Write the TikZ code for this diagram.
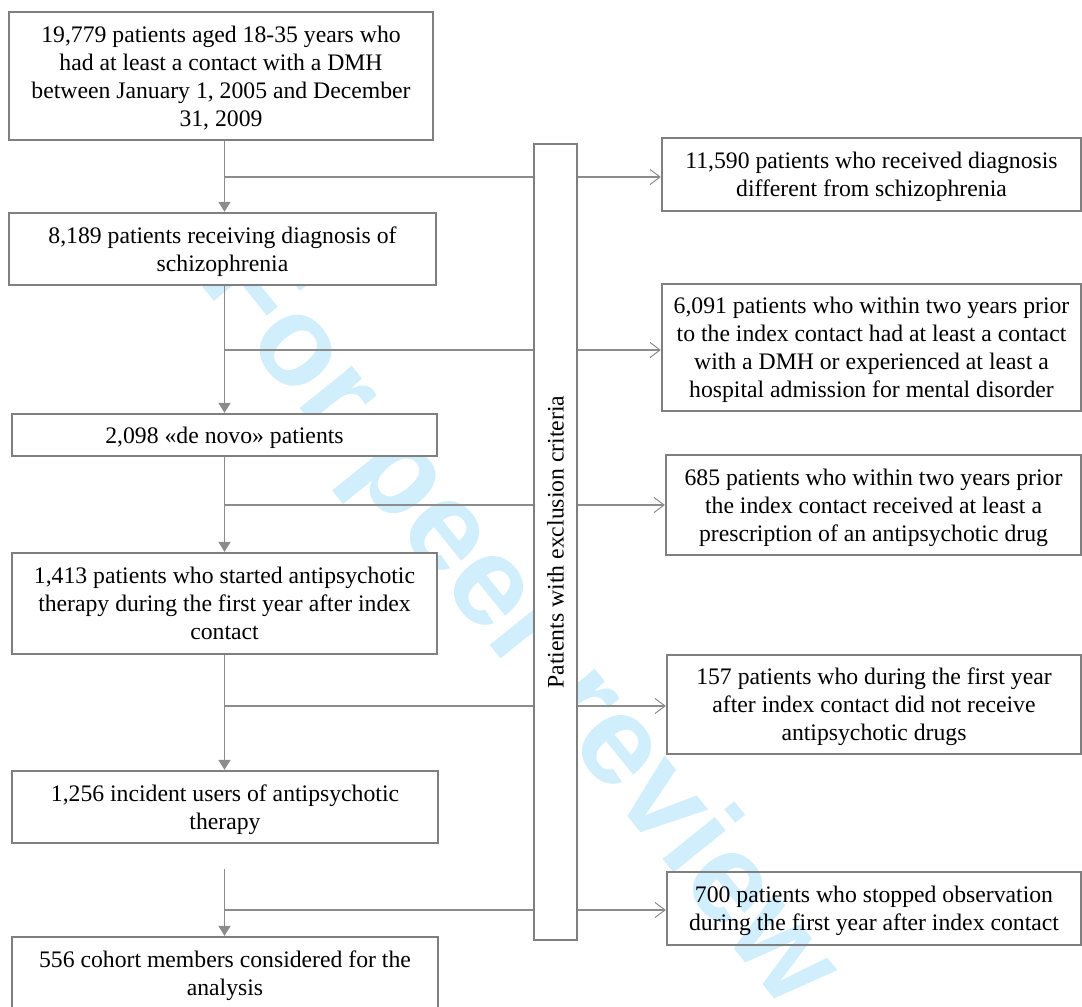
\documentclass[tikz,border=0pt]{standalone}
\usepackage{fontspec}
\setmainfont{Liberation Serif}
\newfontfamily\wmfam{Liberation Sans}
\usetikzlibrary{arrows.meta}
\definecolor{bordergray}{RGB}{127,127,127}
\definecolor{linegray}{RGB}{140,140,140}
\definecolor{wmblue}{RGB}{208,238,252}
\newcommand\mytop{\rule{0pt}{22pt}}
\newcommand\mybot{\rule[-6pt]{0pt}{6pt}}
\tikzset{
  txt/.style={font=\fontsize{23.7}{28}\selectfont, align=center, inner sep=0pt, text=black},
  lbox/.style={txt, draw=bordergray, line width=2.3pt, fill=white},
  rbox/.style={txt, draw=bordergray, line width=2.3pt},
  barbox/.style={draw=bordergray, line width=2.3pt, fill=white, inner sep=0pt},
  flow/.style={draw=linegray, line width=1.4pt, -{Triangle[length=10pt,width=12pt]}},
  branch/.style={draw=linegray, line width=1.4pt},
  excl/.style={draw=linegray, line width=1.4pt, -{Straight Barb[length=10pt,width=15pt,line width=1pt]}},
  wm/.style={text=wmblue, font={\wmfam\bfseries\fontsize{127}{127}\selectfont}, inner sep=0pt}
}
\begin{document}
\begin{tikzpicture}[x=1pt,y=-1pt]
\useasboundingbox (0,0) rectangle (1082,1007);
% watermark
\node[wm, rotate=-51.2] (wmark) at (517,626) {For peer review};
% left column boxes
\node[lbox, minimum width=424pt, minimum height=128pt] (b1) at (221,76)
  {\mytop 19,779 patients aged 18-35 years who\\had at least a contact with a DMH\\between January 1, 2005 and December\\31, 2009\mybot};
\node[lbox, minimum width=427pt, minimum height=72pt] (b2) at (222.5,249)
  {\mytop 8,189 patients receiving diagnosis of\\schizophrenia\mybot};
\node[lbox, minimum width=425pt, minimum height=42pt] (b3) at (224.5,435)
  {\mytop 2,098 «de novo» patients\mybot};
\node[lbox, minimum width=425pt, minimum height=101pt] (b4) at (224.5,603.5)
  {\mytop 1,413 patients who started antipsychotic\\therapy during the first year after index\\contact\mybot};
\node[lbox, minimum width=426pt, minimum height=72pt] (b5) at (225,807)
  {\mytop 1,256 incident users of antipsychotic\\therapy\mybot};
\node[lbox, minimum width=426pt, minimum height=72pt] (b6) at (225,973)
  {\mytop 556 cohort members considered for the\\analysis\mybot};
% exclusion bar
\node[barbox, minimum width=43pt, minimum height=796pt] (bar) at (555.5,542) {};
\node[txt, rotate=90] (bartext) at (bar.center) {\mytop Patients with exclusion criteria\mybot};
% right column boxes
\node[rbox, minimum width=419pt, minimum height=73pt] (r1) at (871.5,174.5)
  {\mytop 11,590 patients who received diagnosis\\different from schizophrenia\mybot};
\node[rbox, minimum width=419pt, minimum height=127pt] (r2) at (871.5,347.5)
  {\mytop 6,091 patients who within two years prior\\to the index contact had at least a contact\\with a DMH or experienced at least a\\hospital admission for mental disorder\mybot};
\node[rbox, minimum width=415pt, minimum height=100pt] (r3) at (873.5,505)
  {\mytop 685 patients who within two years prior\\the index contact received at least a\\prescription of an antipsychotic drug\mybot};
\node[rbox, minimum width=414pt, minimum height=99pt] (r4) at (874,704.5)
  {\mytop 157 patients who during the first year\\after index contact did not receive\\antipsychotic drugs\mybot};
\node[rbox, minimum width=414pt, minimum height=73pt] (r5) at (874,908.5)
  {\mytop 700 patients who stopped observation\\during the first year after index contact\mybot};
% spine and junctions
\coordinate (spine) at (224.5,0);
\coordinate (j1) at (224.5,177);
\coordinate (j2) at (224.5,350);
\coordinate (j3) at (224.5,505);
\coordinate (j4) at (224.5,706);
\coordinate (j5) at (224.5,910);
\coordinate (c6) at (224.5,869);
% main flow
\draw[flow] (spine |- b1.south) -- (spine |- b2.north);
\draw[flow] (spine |- b2.south) -- (spine |- b3.north);
\draw[flow] (spine |- b3.south) -- (spine |- b4.north);
\draw[flow] (spine |- b4.south) -- (spine |- b5.north);
\draw[flow] (c6) -- (spine |- b6.north);
% exclusion branches
\foreach \j/\r in {j1/r1, j2/r2, j3/r3, j4/r4, j5/r5}{
  \draw[branch] (\j) -- (bar.west |- \j);
  \draw[excl] (bar.east |- \j) -- (\r.west |- \j);
}
\end{tikzpicture}
\end{document}
